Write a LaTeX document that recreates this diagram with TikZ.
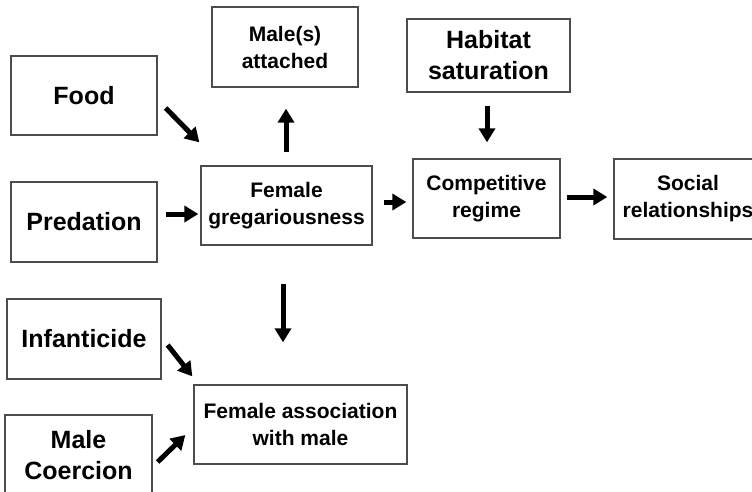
\documentclass[tikz,border=0pt]{standalone}
\usepackage{fontspec}
\setmainfont{Liberation Sans}
\usetikzlibrary{arrows.meta}
\begin{document}
\begin{tikzpicture}[x=1pt,y=-1pt,
  box/.style={draw=black!70, line width=1.3pt, fill=white, align=center,
    inner sep=0pt, font=\bfseries},
  big/.style={box, font=\fontsize{25}{31}\selectfont\bfseries},
  small/.style={box, font=\fontsize{21}{27}\selectfont\bfseries},
  arr/.style={line width=5pt, -{Triangle[length=14pt,width=16pt]}}]
\useasboundingbox (0,0) rectangle (752,491);
\begin{scope}
\clip (0,0) rectangle (752,491);
% factor boxes
\node[big, minimum width=146pt, minimum height=79pt] (food) at (84,95.5) {Food};
\node[big, minimum width=146pt, minimum height=80pt] (pred) at (84,222) {Predation};
\node[big, minimum width=154pt, minimum height=80pt] (inf) at (84,339) {Infanticide};
\node[big, minimum width=147pt, minimum height=80pt] (coer) at (78.5,455) {Male\\Coercion};
\node[big, minimum width=163pt, minimum height=73pt] (hab) at (488.5,55.5) {Habitat\\saturation};
% outcome boxes
\node[small, minimum width=146pt, minimum height=80pt] (male) at (285,47) {Male(s)\\attached};
\node[small, minimum width=171pt, minimum height=79pt] (greg) at (286.5,205.5) {Female\\gregariousness};
\node[small, minimum width=147pt, minimum height=79pt] (comp) at (486.5,198.5) {Competitive\\regime};
\node[small, minimum width=148pt, minimum height=80pt] (soc) at (688,199) {Social\\relationships};
\node[small, minimum width=213pt, minimum height=79pt] (assoc) at (300.5,424.5) {Female association\\with male};
% arrows
\draw[arr] ([shift={(8,12.5)}]food.east) -- ([shift={(-1,-23)}]greg.north west);
\draw[arr] ([shift={(8,-8)}]pred.east) -- ([shift={(-2,8.5)}]greg.west);
\draw[arr] ([shift={(-0.5,-13)}]greg.north) -- ([shift={(1,21)}]male.south);
\draw[arr] ([shift={(-1.5,13)}]hab.south) -- ([shift={(0.5,-16)}]comp.north);
\draw[arr] ([shift={(11,-3.5)}]greg.east) -- ([shift={(-6,3.5)}]comp.west);
\draw[arr] ([shift={(6,-1.5)}]comp.east) -- ([shift={(-6,-2)}]soc.west);
\draw[arr] ([shift={(-3.5,38)}]greg.south) -- ([shift={(-17.5,-42)}]assoc.north);
\draw[arr] ([shift={(6,6)}]inf.east) -- ([shift={(-1,-8)}]assoc.north west);
\draw[arr] ([shift={(5,7)}]coer.east) -- ([shift={(-8,10.5)}]assoc.west);
\end{scope}
\end{tikzpicture}
\end{document}
